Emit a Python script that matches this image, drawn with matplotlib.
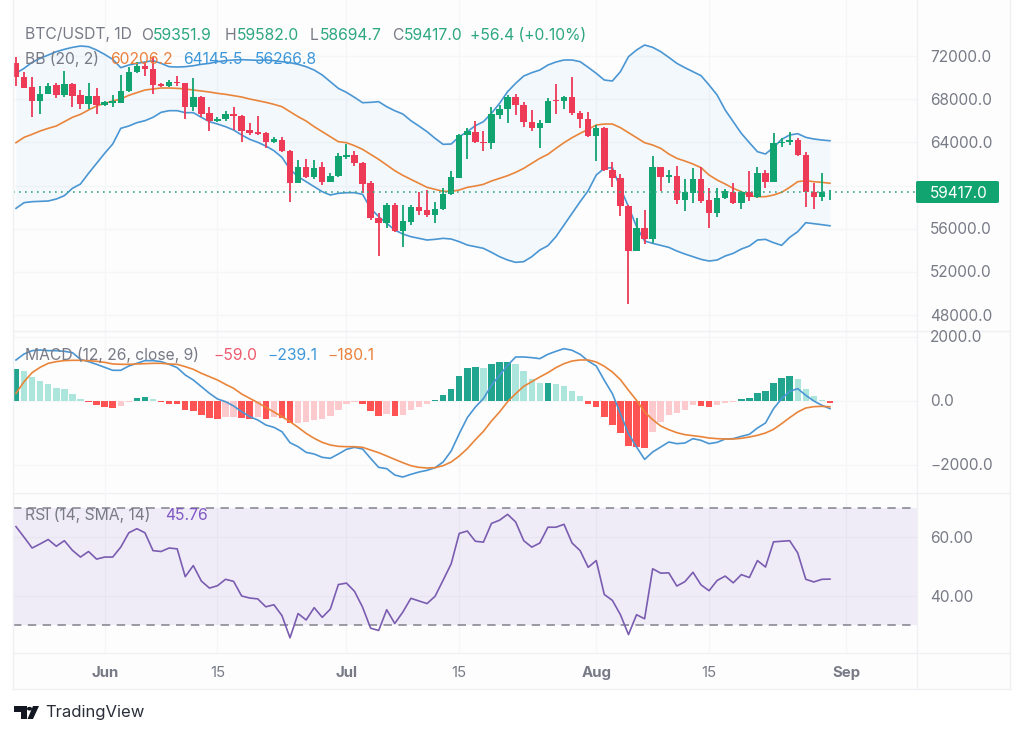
import matplotlib
matplotlib.use("Agg")
import matplotlib.pyplot as plt
from matplotlib.patches import Polygon, Rectangle, Circle, FancyBboxPatch
from matplotlib.lines import Line2D

plt.rcParams['font.family'] = ['Inter', 'DejaVu Sans']

opens = [71380,70085,69160,67860,68480,69280,68420,69405,68355,67550,68290,67430,67675,67675,68760,70485,71075,70765,69375,69220,
 69620,69470,67240,68200,66690,65945,66130,66655,66440,65140,64925,64860,64030,64215,63165,60200,61740,60750,61680,60320,
 60880,62670,62855,62110,60200,57015,56490,58190,55780,56645,58000,57695,57260,57820,59175,60720,64650,64990,64060,63905,
 66530,67055,68170,67460,65915,65325,65790,67890,67830,68230,66750,66160,64555,65295,61435,60660,58125,53925,56025,55035,
 61680,60815,60880,58650,59300,60570,58620,57480,58805,59365,58345,59395,58960,61125,60350,63905,64060,64185,62790,59365,
 58960,59352]
highs = [71940,70550,70025,69220,69470,69470,70640,69530,68850,69470,69000,67830,68385,70240,71010,71475,71475,71940,69530,69745,
 70145,69530,69930,68290,67305,66380,66930,67240,66530,65760,66440,64990,64460,64460,63285,62360,62420,62360,62205,61125,
 62980,63810,63225,62205,60415,57480,58405,58345,58190,58190,59425,59580,58500,59795,61340,64770,65295,66005,65080,67305,
 67460,68385,68450,67770,66995,66070,68075,69375,68290,70025,66930,66840,65605,65450,62145,61030,58190,57015,57725,62730,
 61680,61435,61805,60600,61590,61740,59795,59735,59670,60260,59490,61370,61740,61435,64895,64370,64990,64370,63130,60260,
 61125,59582]
lows = [69220,69000,66380,66620,68480,68110,68230,67240,67120,67120,66620,67370,67300,67610,68700,70395,70145,68480,69095,69095,
 69220,66130,66930,66315,65080,65880,66005,65140,64060,64680,64650,63440,63905,63130,58500,60200,60660,60630,60040,60320,
 60750,62420,61800,59330,56800,53460,56025,55720,54325,56335,57260,57045,56550,57725,59145,60690,62420,63905,63225,63350,
 66160,65760,66530,65450,65080,63440,65760,66625,67055,66530,65295,64525,62270,61370,59890,57170,48980,53925,54575,54700,
 59520,60200,58280,57630,58405,58345,56090,57105,58745,58310,57790,58560,58870,59735,60350,63595,63750,62730,58035,57820,
 58560,58695]
closes = [70020,69065,67860,68480,69250,68420,69370,68290,67550,68290,67460,67700,67800,68760,70520,71075,70765,69310,69250,69620,
 69470,67240,68200,66620,65945,66190,66655,66470,65080,64830,64800,64060,64275,63165,60200,61740,60750,61650,60320,60910,
 62760,62855,62050,60135,57015,56550,58190,55780,56675,58000,57630,57230,57820,59175,60755,64680,65020,64000,63935,66590,
 67055,68170,67460,65880,65295,65790,67830,67800,68230,66690,66130,64555,65295,61435,60660,58125,53925,56025,55035,61680,
 60785,60940,58650,59365,60570,58560,57480,58805,59455,58345,59425,58960,61125,60350,63965,64060,64185,62790,59365,58960,
 59365,59417]
bb_upper = [70394,70857,71413,71784,72093,72400,72620,72800,72927,72865,72556,72150,71690,70920,71166,71320,71444,71570,71320,71010,
 70980,71010,71100,71230,71320,71475,71570,71630,71660,71630,71600,71630,71570,71475,71380,71230,71010,70700,70240,69620,
 69000,68633,68170,67675,67706,67768,67300,66930,66625,66007,65510,64990,64370,63815,63845,64520,64990,65545,65915,66690,
 67610,68695,69470,70146,70455,70700,71165,71444,71629,71629,71475,70950,70393,69776,69683,70548,71938,72556,73019,72803,
 72401,71876,71320,70918,70548,70177,69312,68385,66995,65914,64833,63968,63134,62918,63536,64277,64678,64802,64462,64308,
 64215,64146]
bb_middle = [63968,64463,64741,65050,65297,65513,65914,66316,66594,66996,67366,67614,67830,68015,68355,68602,68849,68942,69034,69034,
 69003,68942,68849,68756,68664,68540,68448,68324,68200,68015,67861,67706,67521,67305,66841,66378,65976,65451,64988,64524,
 64061,63968,63690,63350,62887,62424,61899,61374,60941,60570,60200,59829,59644,59458,59458,59582,59829,59952,60107,60416,
 60663,60910,61219,61590,62053,62516,62887,63443,63968,64431,64833,65204,65605,65698,65698,65358,64895,64432,63968,63752,
 63443,62918,62516,62269,61991,61651,60972,60509,60138,59736,59427,59056,58964,58964,59118,59366,59829,60354,60446,60354,
 60292,60206]
bb_lower = [57883,58408,58501,58532,58563,58748,59057,59736,60138,61127,62053,62980,63845,65297,65513,65822,66007,66316,66779,66934,
 66934,66749,66749,66316,65914,65698,65451,65142,64679,64277,63999,63660,63227,62609,61497,60817,60354,59891,59428,59119,
 59273,59335,59335,59180,57883,57111,56493,55875,55504,55257,55103,54948,55010,55103,55041,54794,54485,54331,54176,53806,
 53404,53095,52879,52941,53404,54021,54423,55257,56338,57419,58501,59520,60972,61590,61652,59736,58038,56184,54856,54639,
 54454,54269,53929,53651,53404,53157,53002,53095,53466,53713,54114,54392,54948,55009,54701,54454,55195,55720,56554,56462,
 56369,56267]
macd_hist = [1010,940,760,625,530,405,365,220,65,-30,-115,-177,-208,-167,-40,105,125,50,-40,-83,
 -94,-290,-313,-427,-542,-562,-510,-505,-542,-552,-510,-562,-510,-542,-688,-680,-646,-594,-562,-479,
 -271,-94,-40,-94,-302,-458,-406,-479,-427,-281,-187,-94,20,177,385,781,1021,1063,1042,1146,
 1208,1230,1146,938,698,563,570,521,479,323,167,-94,-177,-490,-740,-1000,-1417,-1438,-1480,-969,
 -667,-427,-375,-292,-125,-156,-198,-125,-52,-30,52,104,260,313,563,708,771,688,385,146,
 20,-59]
macd_line = [1282,1469,1573,1594,1573,1573,1553,1511,1302,1230,1146,1052,959,959,1094,1177,1261,1261,1230,1146,
 1042,813,656,448,240,63,-21,-156,-333,-490,-594,-750,-823,-959,-1303,-1428,-1605,-1657,-1761,-1792,
 -1657,-1511,-1448,-1500,-1792,-2074,-2115,-2313,-2376,-2292,-2220,-2167,-2084,-1907,-1563,-1021,-521,-188,73,490,
 802,1115,1375,1375,1355,1323,1459,1553,1636,1584,1459,1250,1094,646,229,-396,-1021,-1438,-1824,-1594,
 -1438,-1282,-1334,-1313,-1177,-1230,-1334,-1292,-1188,-1177,-1105,-1042,-844,-688,-240,73,302,386,177,0,
 -135,-239]
macd_signal = [240,604,886,1052,1177,1230,1261,1271,1271,1261,1240,1209,1157,1146,1146,1157,1167,1177,1177,1157,
 1146,1073,990,865,761,656,521,396,219,83,-52,-198,-344,-490,-646,-823,-1011,-1167,-1292,-1375,
 -1417,-1428,-1428,-1448,-1532,-1615,-1719,-1824,-1928,-2022,-2074,-2094,-2084,-2021,-1907,-1719,-1490,-1209,-948,-625,
 -344,-21,229,458,604,750,886,1042,1167,1250,1282,1282,1219,1084,907,667,334,21,-344,-584,
 -781,-896,-990,-1052,-1084,-1115,-1157,-1177,-1188,-1188,-1167,-1125,-1073,-1000,-886,-709,-521,-344,-219,-177,
 -167,-180]
rsi = [63.7,60.1,56.4,57.8,59.3,57.0,58.9,55.6,53.3,55.2,52.6,53.3,53.3,56.7,61.6,63.0,61.6,55.5,55.2,56.4,
 56.1,46.6,50.4,45.1,42.7,43.5,45.7,45.0,40.0,39.3,39.0,36.3,37.0,33.3,25.7,34.0,31.8,36.0,32.7,35.5,
 43.9,44.4,41.6,36.2,29.0,28.2,35.3,30.6,34.5,39.2,38.3,37.4,39.9,45.4,51.0,61.4,62.2,58.7,58.4,64.8,
 65.9,67.9,65.3,58.9,56.7,58.1,63.5,63.5,64.5,58.1,55.5,49.8,52.1,40.5,38.5,33.6,26.8,33.6,32.2,49.3,
 47.8,47.9,43.4,44.9,48.1,43.8,41.8,45.3,46.8,44.5,47.3,46.3,52.1,49.9,58.5,58.7,58.9,54.7,45.7,44.8,
 45.7,45.76]
price_ticks = [48000,52000,56000,64000,68000,72000]
macd_ticks = [-2000,0,2000]
rsi_ticks = [40,60]
month_days = [11,41,72]      # day index of Jun, Jul, Aug on the daily axis
mid_days = [25,55,86]
sep_day = 103
last_price = 59417.0

W, H = 1024, 736
fig = plt.figure(figsize=(W/100, H/100), dpi=100, facecolor='white')

def panel(top, bottom, left=13, right=917):
    a = fig.add_axes([left/W, 1-bottom/H, (right-left)/W, (bottom-top)/H])
    a.set_facecolor('#fdfdfe')
    for s in a.spines.values():
        s.set_visible(False)
    a.tick_params(left=False, bottom=False, labelleft=False, labelbottom=False)
    a.set_xlim(-0.372, 111.8)
    a.set_axisbelow(True)
    return a

GRID = '#f5f6f8'
ax1 = panel(0, 331)
ax2 = panel(332, 492)
ax3 = panel(493, 652)
ax1.set_ylim(46518, 77189)
ax2.set_ylim(-2844, 2156)
ax3.set_ylim(20.85, 75.2)
xs = list(range(len(closes)))

vgrid = sorted(month_days + mid_days + [sep_day])
for a in (ax1, ax2, ax3):
    for d in vgrid:
        a.axvline(d, color=GRID, lw=1, zorder=0)
for v in price_ticks:
    ax1.axhline(v, color=GRID, lw=1, zorder=0)
ax1.axhline(60000, color=GRID, lw=1, zorder=0)
for v in macd_ticks:
    ax2.axhline(v, color=GRID, lw=1, zorder=0)
for v in rsi_ticks:
    ax3.axhline(v, color=GRID, lw=1, zorder=0)

UP = '#12a470'
DOWN = '#ec3a57'

# Main panel
ax1.fill_between(xs, bb_lower, bb_upper, color='#2196f3', alpha=0.045, lw=0, zorder=1)
ax1.plot(xs, bb_upper, color='#4a96d3', lw=1.2, zorder=2)
ax1.plot(xs, bb_lower, color='#4a96d3', lw=1.2, zorder=2)
ax1.plot(xs, bb_middle, color='#e9853a', lw=1.2, zorder=2)
ccolors = [UP if c >= o else DOWN for o, c in zip(opens, closes)]
ax1.vlines(xs, lows, highs, colors=ccolors, lw=1.3, zorder=3)
ax1.bar(xs, [abs(c-o) for o, c in zip(opens, closes)], bottom=[min(o, c) for o, c in zip(opens, closes)],
        width=0.8, color=ccolors, lw=0, zorder=4)
ax1.axhline(last_price, color='#3aa886', lw=1.2, ls=(0, (1, 2.6)), zorder=5)

# MACD panel
hcolors = []
for i, h in enumerate(macd_hist):
    rising = i > 0 and macd_hist[i-1] < h
    if h >= 0:
        hcolors.append('#22a58f' if (rising or i == 0) else '#ace5dc')
    else:
        hcolors.append('#fcc9cd' if rising else '#ff5252')
ax2.bar(xs, macd_hist, width=0.8, color=hcolors, lw=0, zorder=2)
ax2.plot(xs, macd_line, color='#4a96d3', lw=1.2, zorder=3)
ax2.plot(xs, macd_signal, color='#e9853a', lw=1.2, zorder=3)

# RSI panel
ax3.axhspan(30, 70, color='#7e57c2', alpha=0.1, lw=0, zorder=1)
for lev in (30, 70):
    ax3.axhline(lev, color='#80808c', lw=1.1, ls=(0, (5.5, 4.2)), zorder=2)
ax3.plot(xs, rsi, color='#7a5cb0', lw=1.2, zorder=3)

# Frame
def hline(y, x0=13, x1=1010, c='#eff0f3', lw=1.0):
    fig.add_artist(Line2D([x0/W, x1/W], [1-y/H, 1-y/H], color=c, lw=lw))
def vline(x, y0=0, y1=689, c='#eff0f3', lw=1.0):
    fig.add_artist(Line2D([x/W, x/W], [1-y0/H, 1-y1/H], color=c, lw=lw))
fig.add_artist(Rectangle((917/W, 1-689/H), 93/W, 689/H, transform=fig.transFigure, fc='#fdfdfe', ec='none', zorder=-5))
fig.add_artist(Rectangle((13/W, 1-689/H), 904/W, 37/H, transform=fig.transFigure, fc='#fdfdfe', ec='none', zorder=-5))
for y in (331.5, 492.5, 652.5, 689):
    hline(y)
for x in (13, 917, 1010):
    vline(x)

def txt(x, y, s, color='#787b86', size=10.6, weight='normal', ha='left'):
    return fig.text(x/W, 1-y/H, s, color=color, fontsize=size, fontweight=weight, ha=ha, va='center')

GRAY = '#787b86'
GRN = '#2da77f'
BLUE = '#3d97d8'
ORG = '#e9803a'
LEG = 11.3
txt(25, 35, 'BTC/USDT, 1D', GRAY, LEG)
for x, s, c in [(141, 'O', GRAY), (153, '59351.9', GRN), (225, 'H', GRAY), (237, '59582.0', GRN), (310, 'L', GRAY),
                (320, '58694.7', GRN), (392, 'C', GRAY), (404, '59417.0', GRN), (470, '+56.4 (+0.10%)', GRN)]:
    txt(x, 35, s, c, LEG)
for x, s, c in [(25, 'BB (20, 2)', GRAY), (110, '60206.2', ORG), (183, '64145.5', BLUE), (255, '56266.8', BLUE)]:
    txt(x, 59, s, c, LEG)
for x, s, c in [(25, 'MACD (12, 26, close, 9)', GRAY), (213, '\u221259.0', '#ec5a6d'), (267, '\u2212239.1', BLUE), (327, '\u2212180.1', ORG)]:
    txt(x, 355, s, c, LEG)
for x, s, c in [(25, 'RSI (14, SMA, 14)', GRAY), (165, '45.76', '#7e57c2')]:
    txt(x, 515, s, c, LEG)

TICK = 11.1
for v in price_ticks:
    y = 57 + (72000 - v) / 4000 * 43.17
    txt(930, y, f'{v:.1f}', GRAY, TICK)
for v in macd_ticks:
    y = 402 - v / 31.25
    txt(930, y, f'{v:.1f}'.replace('-', '\u2212'), GRAY, TICK)
for v in rsi_ticks:
    y = 538.5 + (60 - v) * 2.925
    txt(930, y, f'{v:.2f}', GRAY, TICK)

# Last price label
fig.add_artist(FancyBboxPatch((916/W, 1-203/H), 83/W, 22/H, boxstyle='round,pad=0,rounding_size=0.002',
                              transform=fig.transFigure, fc='#12a470', ec='none', zorder=4))
t = txt(930, 193, f'{last_price:.1f}', 'white', TICK)
t.set_zorder(5)

# Time axis
for d, s, bold in [(11, 'Jun', True), (25, '15', False), (41, 'Jul', True), (55, '15', False),
                   (72, 'Aug', True), (86, '15', False), (103, 'Sep', True)]:
    x = 16 + d * 8.06
    txt(x, 673, s, GRAY, 10.8, 'bold' if bold else 'normal', 'center')

# TradingView logo
LOGO = '#131722'
def P(pts):
    fig.add_artist(Polygon([(x/W, 1-y/H) for x, y in pts], transform=fig.transFigure, fc=LOGO, ec='none'))
P([(14, 706), (27, 706), (27, 719), (21, 719), (21, 711.5), (14, 711.5)])
P([(33, 706), (39, 706), (33, 719), (27.5, 719)])
fig.add_artist(Circle((29.5/W, 1-708.7/H), 2.6/W, transform=fig.transFigure, fc=LOGO, ec='none'))
txt(45, 713, 'TradingView', '#2a2e39', 12)

fig.savefig('out.png', dpi=100, facecolor='white')
